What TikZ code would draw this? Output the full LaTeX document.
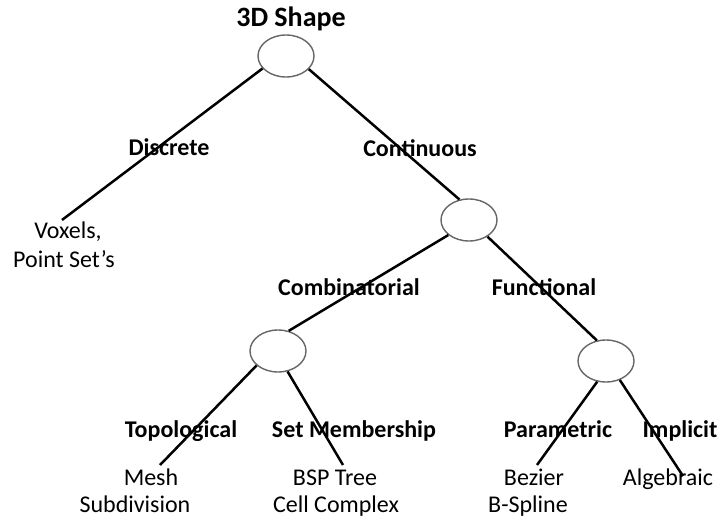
\documentclass[tikz,border=0pt]{standalone}
\usepackage{fontspec}
\setmainfont{Carlito}
\usetikzlibrary{shapes.geometric}
\begin{document}
\begin{tikzpicture}[x=1pt,y=-1pt,
  hub/.style={ellipse,draw=black!60,line width=1.4pt,fill=white,
    minimum width=56pt,minimum height=42pt,inner sep=0pt},
  branch/.style={line width=2.5pt,black},
  cat/.style={anchor=base,inner sep=0pt,font=\fontsize{24}{29}\selectfont\bfseries},
  leaf/.style={anchor=base,inner sep=0pt,font=\fontsize{24}{29}\selectfont},
  title/.style={anchor=base,inner sep=0pt,font=\fontsize{28}{34}\selectfont\bfseries}]
\useasboundingbox (0,0) rectangle (723,519);

% decision hubs
\node[hub] (e1) at (286,56) {};
\node[hub] (e2) at (469,220) {};
\node[hub] (e3) at (278,351) {};
\node[hub] (e4) at (606,361) {};

% free ends of the branches above the leaf texts
\coordinate (cVox) at (62,220);
\coordinate (cMesh) at (160,465);
\coordinate (cBSP) at (343,465);
\coordinate (cBez) at (537,465);
\coordinate (cAlg) at (683,476);

% branches
\draw[branch] (e1.208) -- (cVox);
\draw[branch] (e1.330) -- (e2.115);
\draw[branch] (e2.216) -- (e3.62);
\draw[branch] (e2.318) -- (e4.114);
\draw[branch] (e3.214) -- (cMesh);
\draw[branch] (e3.295) -- (cBSP);
\draw[branch] (e4.247) -- (cBez);
\draw[branch] (e4.306) -- (cAlg);

% labels
\node[title] (root) at (291,27) {3D Shape};
\node[cat] (disc) at (169,155) {Discrete};
\node[cat] (cont) at (420,156) {Continuous};
\node[cat] (comb) at (349,295) {Combinatorial};
\node[cat] (func) at (544,295) {Functional};
\node[cat] (topo) at (181,437) {Topological};
\node[cat] (setm) at (354,437) {Set Membership};
\node[cat] (para) at (558,437) {Parametric};
\node[cat] (impl) at (680,437) {Implicit};

\node[leaf] (vox) at (68,238) {Voxels,};
\node[leaf] (pts) at (64,267) {Point Set’s};
\node[leaf] (mesh) at (151,485) {Mesh};
\node[leaf] (subd) at (135,512) {Subdivision};
\node[leaf] (bsp) at (335,485) {BSP Tree};
\node[leaf] (cell) at (336,512) {Cell Complex};
\node[leaf] (bez) at (534,485) {Bezier};
\node[leaf] (bspl) at (528,512) {B-Spline};
\node[leaf] (alg) at (668,485) {Algebraic};
\end{tikzpicture}
\end{document}
